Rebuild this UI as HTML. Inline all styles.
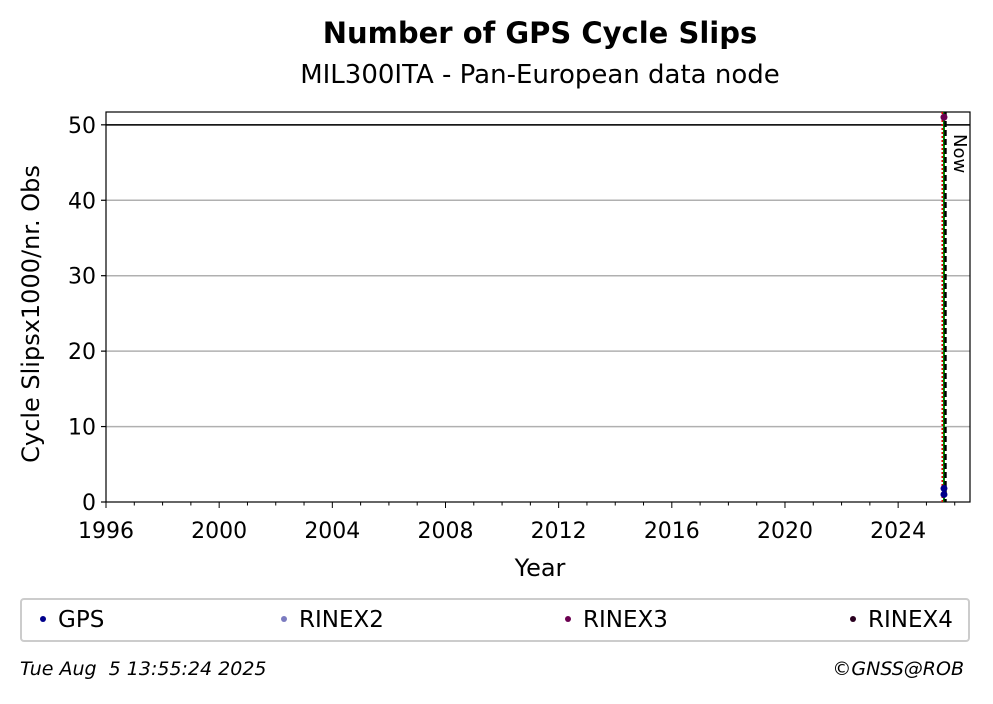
<!DOCTYPE html>
<html><head><meta charset="utf-8"><style>
body{margin:0;background:#fff;font-family:"Liberation Sans","DejaVu Sans",sans-serif;}
svg text{font-family:"DejaVu Sans","Liberation Sans",sans-serif;}
</style></head><body>
<svg width="993" height="699" viewBox="0 0 993 699">
<text x="540" y="43" text-anchor="middle" font-size="29" font-weight="bold">Number of GPS Cycle Slips</text>
<text x="540" y="83" text-anchor="middle" font-size="26">MIL300ITA - Pan-European data node</text>
<g id="grid"></g><g id="axes"></g><g id="marks"></g>
<text x="540" y="576" text-anchor="middle" font-size="24">Year</text>
<text transform="translate(39,314) rotate(-90)" text-anchor="middle" font-size="24">Cycle Slipsx1000/nr. Obs</text>
<g>
<rect x="21" y="599" width="948" height="42" fill="#fff" stroke="#ccc" stroke-width="2" rx="3"/>
<circle cx="43" cy="619" r="3" fill="#00008b"/><text x="58" y="627" font-size="23">GPS</text>
<circle cx="284" cy="619" r="3" fill="#7b7bc0"/><text x="299" y="627" font-size="23">RINEX2</text>
<circle cx="568" cy="619" r="3" fill="#6b0050"/><text x="583" y="627" font-size="23">RINEX3</text>
<circle cx="853" cy="619" r="3" fill="#2a0020"/><text x="868" y="627" font-size="23">RINEX4</text>
</g>
<text x="20" y="675" font-size="19" font-style="italic" xml:space="preserve" style="white-space:pre">Tue Aug  5 13:55:24 2025</text>
<text x="964" y="675" font-size="19" font-style="italic" text-anchor="end">©GNSS@ROB</text>
</svg>
<script>
const xTicks=[1996,2000,2004,2008,2012,2016,2020,2024];
const yTicks=[0,10,20,30,40,50];
const nowYear=2025.62;
const gpsYears=[2025.62,2025.62];
const gpsValues=[1.0,1.8];
const rinex3Years=[2025.62];
const rinex3Values=[51];
const L=106,R=970,T=112,B=502;
const x0=1996,x1=2026.54,y0=0,y1=51.7;
const sx=v=>L+(v-x0)/(x1-x0)*(R-L);
const sy=v=>B-(v-y0)/(y1-y0)*(B-T);
const NS="http://www.w3.org/2000/svg";
function mk(parent,tag,attrs){const e=document.createElementNS(NS,tag);for(const k in attrs)e.setAttribute(k,attrs[k]);document.getElementById(parent).appendChild(e);return e;}
yTicks.forEach(t=>{
 if(t>0){const g=mk('grid','line',{x1:L,x2:R,y1:sy(t),y2:sy(t),stroke:'#b0b0b0','stroke-width':1.5});
 
 }
 const tk=mk('axes','line',{x1:L-5,x2:L,y1:sy(t),y2:sy(t),stroke:'#000','stroke-width':1.2});
 
 
 const tx=mk('axes','text',{x:L-10,y:sy(t)+8,'text-anchor':'end','font-size':22});tx.textContent=t;
 
 
});
for(let yr=1996;yr<=2026;yr++){
 const major=xTicks.includes(yr);
 const tk=mk('axes','line',{x1:sx(yr),x2:sx(yr),y1:B,y2:B+(major?6:3.5),stroke:'#000','stroke-width':1});
 
 
}
xTicks.forEach(t=>{const tx=mk('axes','text',{x:sx(t),y:B+36,'text-anchor':'middle','font-size':22});tx.textContent=t;
 
 });
const fr=mk('axes','rect',{x:L,y:T,width:R-L,height:B-T,fill:'none',stroke:'#000','stroke-width':1.2});


const hl=mk('marks','line',{x1:L,x2:R,y1:sy(50),y2:sy(50),stroke:'#000','stroke-width':1.5});


const nx=sx(nowYear);
const l1=mk('marks','line',{x1:nx-1.5,x2:nx-1.5,y1:T,y2:B,stroke:'#e00000','stroke-width':2,'stroke-dasharray':'2,2'});


const l2=mk('marks','line',{x1:nx,x2:nx,y1:T,y2:B,stroke:'#008000','stroke-width':2});


const l3=mk('marks','line',{x1:nx+1.5,x2:nx+1.5,y1:T,y2:B,stroke:'#000','stroke-width':2.5,'stroke-dasharray':'6,3'});


const nt=mk('marks','text',{transform:`translate(${nx+10},${T+22}) rotate(90)`,'font-size':18});nt.textContent='Now';


gpsYears.forEach((yv,i)=>{const c=mk('marks','circle',{cx:sx(yv),cy:sy(gpsValues[i]),r:3.5,fill:'#00008b'});
 
 });
rinex3Years.forEach((yv,i)=>{const c=mk('marks','circle',{cx:sx(yv),cy:sy(rinex3Values[i]),r:3.5,fill:'#6b0050'});
 
 });
</script>
</body></html>
